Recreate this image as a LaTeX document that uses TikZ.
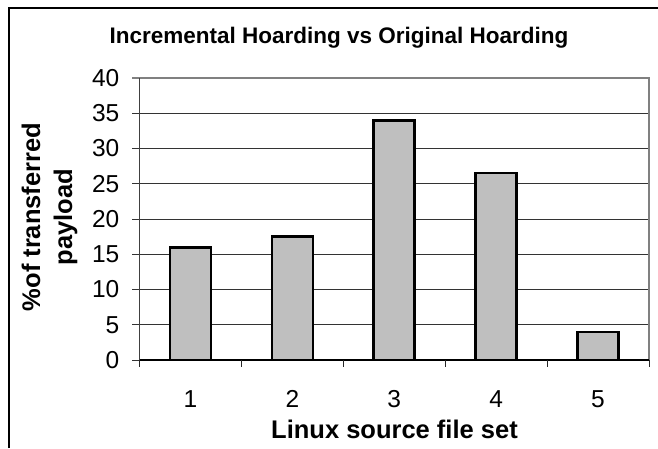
\documentclass[tikz,border=0pt]{standalone}
\usepackage{fontspec}
\setmainfont{Liberation Sans}
\begin{document}
\begin{tikzpicture}[x=1pt,y=-1pt,
  grid/.style={draw=black!80,line width=1pt},
  edge/.style={draw=black!50,line width=1.6pt},
  bar/.style={fill=black!25,draw=black,line width=2.6pt},
  ticklab/.style={font=\fontsize{24.5}{28}\selectfont,inner sep=0pt},
  axlab/.style={font=\fontsize{25.5}{31}\selectfont\bfseries,inner sep=0pt},
]
\useasboundingbox (0,0) rectangle (658,448);
% chart frame (left and top edges)
\draw[black,line width=1.3pt] (9,448) -- (9,8) -- (658,8);
% title
\node[font=\fontsize{22.5}{26}\selectfont\bfseries,anchor=base,inner sep=0pt] (title) at (339,43) {Incremental Hoarding vs Original Hoarding};
% horizontal gridlines with left ticks and labels
\foreach \v in {0,5,...,35} {
  \pgfmathsetmacro{\yy}{360-7.05*\v}
  \draw[grid] (132,\yy) -- (649,\yy);
  \node[ticklab,anchor=east] (y\v) at (119.5,\yy) {\v};
}
\node[ticklab,anchor=east] (y40) at (119.5,78) {40};
\draw[edge] (132,78) -- (649,78) -- (649,360);
% value axis
\draw[black!75,line width=1.6pt] (139.5,78) -- (139.5,360);
% category axis and ticks
\draw[black,line width=1.2pt] (139.5,360) -- (649,360);
\foreach \i in {0,...,5} {
  \draw[black!85,line width=1pt] ({139.5+101.9*\i},360) -- ({139.5+101.9*\i},367);
}
% bars and category labels
\foreach \i/\v in {1/16,2/17.5,3/34,4/26.5,5/4} {
  \pgfmathsetmacro{\cx}{139.5+101.9*(\i-0.5)}
  \pgfmathsetmacro{\top}{360-7.05*\v}
  \draw[bar] ({\cx-20.5},360) rectangle ({\cx+20.5},\top);
  \node[ticklab,anchor=base] (x\i) at (\cx,407) {\i};
}
% axis titles
\node[axlab,anchor=base] (xtitle) at (394.5,438) {Linux source file set};
\node[axlab,anchor=base,rotate=90] (ytitle1) at (40,217) {\%of transferred};
\node[axlab,anchor=base,rotate=90] (ytitle2) at (72,217) {payload};
\end{tikzpicture}
\end{document}
